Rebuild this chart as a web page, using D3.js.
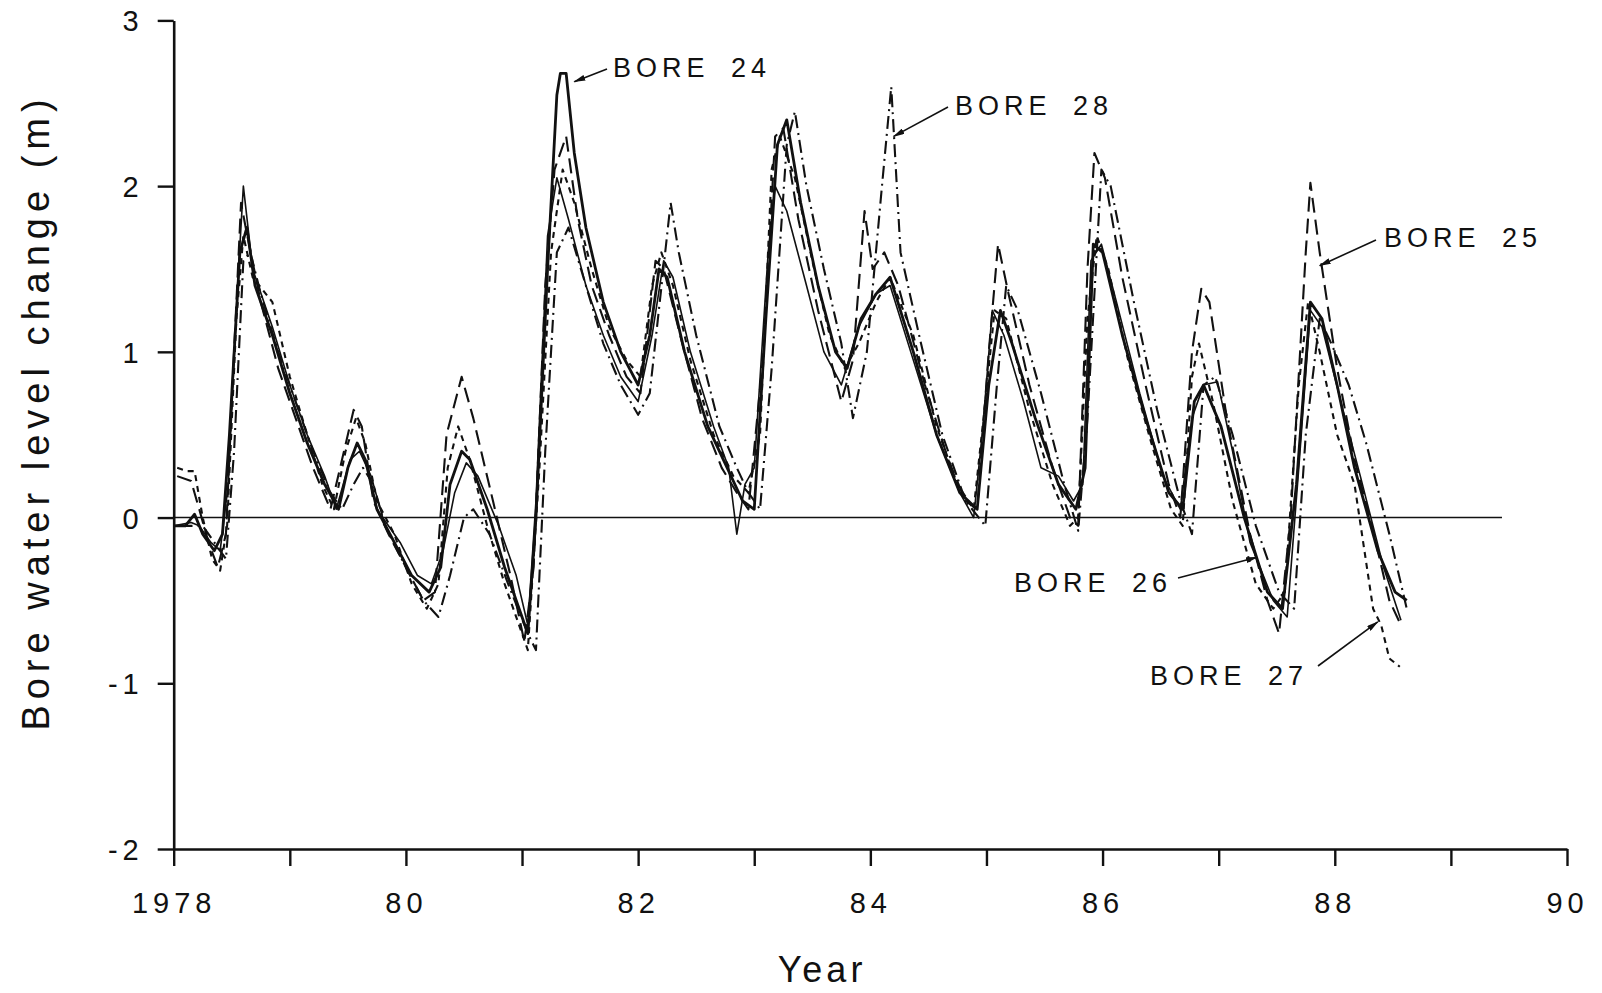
<!DOCTYPE html>
<html>
<head>
<meta charset="utf-8">
<script src="https://cdn.jsdelivr.net/npm/d3@7"></script>
<style>
  body { margin: 0; background: #fff; }
  svg { display: block; }
  text { font-family: "Liberation Sans", Arial, Helvetica, sans-serif; fill: #111; }
</style>
</head>
<body>
<div id="chart"></div>
<script>
// bore water level change (m) vs year
var bore24 = [
  [1978.00,-0.05],[1978.10,-0.05],[1978.18,0.02],[1978.25,-0.10],[1978.35,-0.20],[1978.42,-0.10],
  [1978.48,0.50],[1978.57,1.60],[1978.63,1.75],[1978.70,1.40],[1978.85,1.10],[1979.00,0.75],
  [1979.15,0.45],[1979.30,0.20],[1979.42,0.05],[1979.50,0.30],[1979.58,0.45],[1979.65,0.35],
  [1979.75,0.05],[1979.90,-0.15],[1980.05,-0.35],[1980.20,-0.45],[1980.30,-0.30],[1980.38,0.20],
  [1980.48,0.40],[1980.55,0.35],[1980.70,0.05],[1980.85,-0.30],[1981.00,-0.60],[1981.05,-0.70],
  [1981.12,0.00],[1981.22,1.50],[1981.30,2.55],[1981.33,2.68],[1981.38,2.68],[1981.45,2.20],
  [1981.55,1.75],[1981.70,1.30],[1981.85,1.00],[1982.00,0.80],[1982.10,1.10],[1982.18,1.50],
  [1982.25,1.45],[1982.40,1.00],[1982.60,0.55],[1982.80,0.25],[1982.90,0.10],[1983.00,0.05],
  [1983.10,1.20],[1983.20,2.25],[1983.28,2.40],[1983.40,1.90],[1983.55,1.40],[1983.70,1.00],
  [1983.80,0.90],[1983.92,1.20],[1984.05,1.35],[1984.17,1.45],[1984.37,1.00],[1984.57,0.50],
  [1984.77,0.15],[1984.92,0.05],[1985.02,0.80],[1985.12,1.25],[1985.22,1.05],[1985.42,0.60],
  [1985.62,0.20],[1985.77,0.05],[1985.85,0.30],[1985.92,1.65],[1986.00,1.60],[1986.17,1.10],
  [1986.37,0.60],[1986.57,0.15],[1986.69,0.05],[1986.79,0.70],[1986.87,0.80],[1987.02,0.55],
  [1987.22,0.00],[1987.42,-0.45],[1987.55,-0.55],[1987.67,0.20],[1987.79,1.30],[1987.89,1.20],
  [1988.02,0.80],[1988.17,0.30],[1988.37,-0.20],[1988.52,-0.45],[1988.62,-0.50]
];

var bore25 = [
  [1978.03,0.25],[1978.15,0.22],[1978.22,0.05],[1978.30,-0.15],[1978.38,-0.30],[1978.45,-0.10],
  [1978.52,1.00],[1978.58,1.90],[1978.62,1.75],[1978.75,1.30],[1978.90,0.90],[1979.05,0.60],
  [1979.20,0.30],[1979.35,0.05],[1979.45,0.35],[1979.55,0.65],[1979.62,0.55],[1979.72,0.10],
  [1979.85,-0.10],[1980.00,-0.30],[1980.15,-0.50],[1980.25,-0.45],[1980.35,0.50],[1980.48,0.85],
  [1980.58,0.60],[1980.75,0.10],[1980.90,-0.35],[1981.02,-0.75],[1981.10,-0.30],[1981.20,1.40],
  [1981.28,2.10],[1981.38,2.30],[1981.48,1.80],[1981.60,1.40],[1981.75,1.10],[1981.90,0.85],
  [1982.02,0.75],[1982.15,1.55],[1982.22,1.50],[1982.38,1.05],[1982.55,0.60],[1982.72,0.30],
  [1982.85,0.15],[1982.95,0.05],[1983.08,1.00],[1983.18,2.30],[1983.25,2.35],[1983.38,1.80],
  [1983.55,1.25],[1983.75,0.70],[1983.85,0.95],[1983.95,1.85],[1984.02,1.50],[1984.12,1.60],
  [1984.24,1.40],[1984.47,0.80],[1984.67,0.35],[1984.82,0.10],[1984.92,0.05],[1985.02,1.00],
  [1985.10,1.65],[1985.19,1.35],[1985.37,0.80],[1985.57,0.30],[1985.72,0.00],[1985.79,-0.05],
  [1985.87,1.50],[1985.93,2.20],[1986.02,2.05],[1986.17,1.45],[1986.37,0.80],[1986.57,0.20],
  [1986.67,0.00],[1986.77,1.00],[1986.85,1.38],[1986.92,1.30],[1987.07,0.60],[1987.27,-0.10],
  [1987.42,-0.50],[1987.52,-0.70],[1987.62,0.00],[1987.75,1.60],[1987.79,2.02],[1987.87,1.60],
  [1988.02,0.90],[1988.17,0.35],[1988.32,-0.05],[1988.47,-0.50],[1988.57,-0.65]
];

var bore26 = [
  [1978.00,-0.05],[1978.15,-0.03],[1978.22,-0.05],[1978.32,-0.15],[1978.40,-0.20],[1978.47,0.20],
  [1978.55,1.40],[1978.60,2.00],[1978.68,1.50],[1978.85,1.15],[1979.00,0.80],[1979.15,0.50],
  [1979.30,0.25],[1979.40,0.05],[1979.52,0.35],[1979.60,0.40],[1979.70,0.25],[1979.80,0.00],
  [1979.95,-0.15],[1980.10,-0.35],[1980.22,-0.40],[1980.32,-0.20],[1980.42,0.15],[1980.52,0.33],
  [1980.62,0.25],[1980.80,-0.05],[1980.95,-0.35],[1981.05,-0.65],[1981.12,0.10],[1981.22,1.70],
  [1981.30,2.05],[1981.40,1.80],[1981.55,1.40],[1981.70,1.10],[1981.85,0.85],[1982.00,0.70],
  [1982.12,1.10],[1982.22,1.55],[1982.30,1.45],[1982.45,1.00],[1982.65,0.55],[1982.78,0.30],
  [1982.85,-0.10],[1982.92,0.20],[1983.00,0.30],[1983.12,1.60],[1983.18,2.00],[1983.28,1.85],
  [1983.45,1.40],[1983.60,1.00],[1983.75,0.80],[1983.90,1.15],[1984.05,1.35],[1984.17,1.40],
  [1984.37,0.95],[1984.57,0.50],[1984.77,0.15],[1984.89,0.00],[1984.97,0.55],[1985.05,1.25],
  [1985.15,1.10],[1985.32,0.70],[1985.47,0.30],[1985.62,0.25],[1985.75,0.10],[1985.83,0.20],
  [1985.90,1.55],[1985.99,1.65],[1986.12,1.30],[1986.32,0.75],[1986.52,0.25],[1986.67,0.05],
  [1986.77,0.60],[1986.87,0.80],[1986.99,0.82],[1987.12,0.40],[1987.27,-0.15],[1987.47,-0.50],
  [1987.59,-0.60],[1987.69,0.30],[1987.79,1.25],[1987.89,1.15],[1988.07,0.65],[1988.22,0.25],
  [1988.42,-0.30],[1988.57,-0.62]
];

var bore27 = [
  [1978.03,0.30],[1978.12,0.28],[1978.18,0.28],[1978.25,0.00],[1978.33,-0.25],[1978.40,-0.32],
  [1978.46,-0.05],[1978.54,1.20],[1978.60,1.70],[1978.68,1.45],[1978.85,1.30],[1979.00,0.85],
  [1979.15,0.50],[1979.28,0.20],[1979.38,0.05],[1979.48,0.40],[1979.57,0.60],[1979.65,0.45],
  [1979.75,0.10],[1979.90,-0.10],[1980.05,-0.40],[1980.18,-0.55],[1980.28,-0.40],[1980.36,0.30],
  [1980.45,0.55],[1980.55,0.35],[1980.70,-0.05],[1980.85,-0.40],[1981.00,-0.70],[1981.05,-0.80],
  [1981.15,0.30],[1981.25,1.60],[1981.35,2.10],[1981.45,1.90],[1981.60,1.50],[1981.75,1.15],
  [1981.90,0.95],[1982.02,0.85],[1982.12,1.40],[1982.20,1.60],[1982.30,1.40],[1982.45,0.95],
  [1982.65,0.50],[1982.82,0.25],[1982.95,0.15],[1983.05,0.50],[1983.15,2.10],[1983.22,2.30],
  [1983.35,2.05],[1983.50,1.55],[1983.65,1.10],[1983.78,0.90],[1983.90,1.05],[1984.05,1.30],
  [1984.17,1.45],[1984.37,1.10],[1984.57,0.55],[1984.75,0.20],[1984.89,0.05],[1984.99,0.70],
  [1985.07,1.25],[1985.17,1.20],[1985.37,0.65],[1985.57,0.20],[1985.72,-0.05],[1985.79,0.00],
  [1985.87,1.20],[1985.95,1.70],[1986.05,1.50],[1986.22,0.95],[1986.42,0.45],[1986.59,0.05],
  [1986.69,-0.05],[1986.77,0.85],[1986.83,1.05],[1986.95,0.70],[1987.12,0.10],[1987.32,-0.40],
  [1987.47,-0.55],[1987.57,-0.45],[1987.69,0.80],[1987.77,1.30],[1987.87,1.00],[1988.02,0.50],
  [1988.17,0.20],[1988.33,-0.55],[1988.40,-0.65],[1988.47,-0.85],[1988.56,-0.90]
];

var bore28 = [
  [1978.05,-0.05],[1978.15,-0.05],[1978.25,-0.05],[1978.35,-0.15],[1978.45,-0.25],[1978.52,0.40],
  [1978.60,1.55],[1978.66,1.60],[1978.75,1.35],[1978.90,1.00],[1979.05,0.70],[1979.20,0.40],
  [1979.35,0.15],[1979.45,0.05],[1979.55,0.20],[1979.63,0.30],[1979.72,0.20],[1979.82,-0.05],
  [1980.00,-0.30],[1980.15,-0.50],[1980.28,-0.60],[1980.38,-0.35],[1980.50,0.00],[1980.58,0.05],
  [1980.72,-0.10],[1980.88,-0.40],[1981.05,-0.70],[1981.12,-0.80],[1981.20,0.40],[1981.30,1.60],
  [1981.40,1.75],[1981.55,1.40],[1981.70,1.05],[1981.85,0.80],[1982.00,0.62],[1982.10,0.75],
  [1982.28,1.90],[1982.35,1.60],[1982.50,1.10],[1982.70,0.55],[1982.85,0.30],[1982.95,0.15],
  [1983.05,0.05],[1983.15,0.90],[1983.28,2.25],[1983.35,2.45],[1983.45,2.00],[1983.60,1.50],
  [1983.75,1.05],[1983.85,0.60],[1983.97,1.00],[1984.10,2.00],[1984.18,2.60],[1984.26,1.60],
  [1984.42,1.10],[1984.62,0.50],[1984.82,0.10],[1984.99,-0.05],[1985.09,0.80],[1985.17,1.40],
  [1985.27,1.25],[1985.47,0.75],[1985.67,0.20],[1985.79,-0.08],[1985.87,0.60],[1985.99,2.10],
  [1986.07,2.00],[1986.27,1.30],[1986.47,0.65],[1986.67,0.10],[1986.77,-0.10],[1986.87,0.80],
  [1986.97,0.85],[1987.12,0.50],[1987.32,-0.05],[1987.52,-0.45],[1987.65,-0.55],[1987.75,0.50],
  [1987.87,1.20],[1987.97,1.05],[1988.12,0.80],[1988.27,0.45],[1988.47,-0.10],[1988.62,-0.55]
];

var boreNames = ["BORE 24", "BORE 25", "BORE 26", "BORE 27", "BORE 28"];
var yTickValues = [-2, -1, 0, 1, 2, 3];
var yTickLabels = ["-2", "-1", "0", "1", "2", "3"];
var xTickValues = [1978, 1979, 1980, 1981, 1982, 1983, 1984, 1985, 1986, 1987, 1988, 1989, 1990];
var xTickLabels = {1978: "1978", 1980: "80", 1982: "82", 1984: "84", 1986: "86", 1988: "88", 1990: "90"};
// where each label's arrow points to, in [year, level]
var arrowTips = [[1981.45, 2.63], [1987.87, 1.52], [1987.33, -0.24], [1988.37, -0.63], [1984.2, 2.30]];

var W = 1602, H = 993;

var svg = d3.select('#chart')
  .append('svg')
  .attr('width', W)
  .attr('height', H);

var x = d3.scaleLinear().domain([1978, 1990]).range([173.7, 1567]);
var y = d3.scaleLinear().domain([-2, 3]).range([849, 20.4]);

// line styles, one per bore
var styles = [
  {data: bore24, width: 2.8, dash: null},
  {data: bore25, width: 2.1, dash: "15,7"},
  {data: bore26, width: 1.6, dash: null},
  {data: bore27, width: 2.1, dash: "6,5"},
  {data: bore28, width: 2.1, dash: "13,5,2,5"}
];

// zero line
svg.append('line')
  .attr('x1', x(1978)).attr('x2', x(1989.44))
  .attr('y1', y(0)).attr('y2', y(0))
  .attr('stroke', '#111').attr('stroke-width', 1.6);

var line = d3.line()
  .x(function(d) { return x(d[0]); })
  .y(function(d) { return y(d[1]); });

svg.append('g')
  .selectAll('path')
  .data(styles)
  .enter()
  .append('path')
  .attr('d', function(d) { return line(d.data); })
  .attr('fill', 'none')
  .attr('stroke', '#111')
  .attr('stroke-width', function(d) { return d.width; })
  .attr('stroke-dasharray', function(d) { return d.dash; })
  .attr('stroke-linejoin', 'round');

// axes
var xAxis = d3.axisBottom(x)
  .tickValues(xTickValues)
  .tickSize(17)
  .tickSizeOuter(0)
  .tickPadding(26)
  .tickFormat(function(d) { return xTickLabels[d] || ""; });

var gx = svg.append('g')
  .attr('transform', 'translate(0,' + y(-2) + ')')
  .call(xAxis);

var yAxis = d3.axisLeft(y)
  .tickValues(yTickValues)
  .tickSize(16)
  .tickSizeOuter(0)
  .tickPadding(14)
  .tickFormat(function(d, i) { return yTickLabels[i]; });

var gy = svg.append('g')
  .attr('transform', 'translate(' + x(1978) + ',0)')
  .call(yAxis);

[gx, gy].forEach(function(g) {
  g.select('.domain').attr('stroke', '#111').attr('stroke-width', 2.6);
  g.selectAll('.tick line').attr('stroke', '#111').attr('stroke-width', 2.4);
  g.selectAll('.tick text')
    .attr('fill', '#111')
    .style('font-family', '"Liberation Sans", Arial, sans-serif')
    .style('font-size', '29px')
    .style('letter-spacing', '5px');
});
gy.selectAll('.tick text').attr('dy', '0.36em');

// axis titles
svg.append('text')
  .attr('x', 822).attr('y', 982)
  .attr('text-anchor', 'middle')
  .style('font-size', '36px')
  .style('letter-spacing', '4px')
  .text('Year');

svg.append('text')
  .attr('transform', 'translate(49,412) rotate(-90)')
  .attr('text-anchor', 'middle')
  .style('font-size', '38px')
  .style('letter-spacing', '6px')
  .text('Bore water level change (m)');

// bore labels with arrows
svg.append('defs').append('marker')
  .attr('id', 'head')
  .attr('viewBox', '0 0 12 6')
  .attr('refX', 11).attr('refY', 3)
  .attr('markerWidth', 12).attr('markerHeight', 6)
  .attr('markerUnits', 'userSpaceOnUse')
  .attr('orient', 'auto')
  .append('path')
  .attr('d', 'M0,0 L12,3 L0,6 Z')
  .attr('fill', '#111');

// label text position and arrow tail, in pixels
var labelLayout = [
  {tx: 613, ty: 77, ax: 607, ay: 69, anchor: 'start'},
  {tx: 1384, ty: 247, ax: 1376, ay: 240, anchor: 'start'},
  {tx: 1172, ty: 592, ax: 1178, ay: 578, anchor: 'end'},
  {tx: 1308, ty: 685, ax: 1318, ay: 666, anchor: 'end'},
  {tx: 955, ty: 115, ax: 948, ay: 107, anchor: 'start'}
];

boreNames.forEach(function(name, i) {
  var L = labelLayout[i];
  svg.append('line')
    .attr('x1', L.ax).attr('y1', L.ay)
    .attr('x2', x(arrowTips[i][0])).attr('y2', y(arrowTips[i][1]))
    .attr('stroke', '#111').attr('stroke-width', 1.6)
    .attr('marker-end', 'url(#head)');
  svg.append('text')
    .attr('x', L.tx).attr('y', L.ty)
    .attr('text-anchor', L.anchor)
    .style('font-size', '27px')
    .style('letter-spacing', '5px')
    .style('word-spacing', '9px')
    .text(name);
});
</script>
</body>
</html>
